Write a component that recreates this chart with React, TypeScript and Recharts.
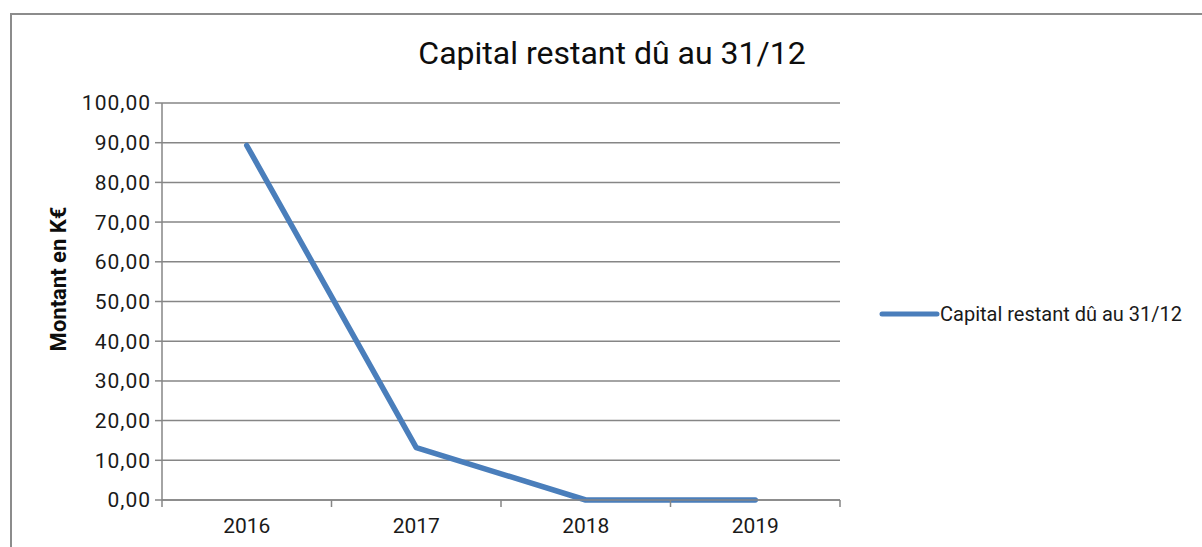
import { LineChart, Line, XAxis, YAxis, CartesianGrid } from "recharts";

const years = ["2016", "2017", "2018", "2019"];
const capital = [89.3, 13.2, 0, 0];
const yTicks = [0, 10, 20, 30, 40, 50, 60, 70, 80, 90, 100];

const seriesName = "Capital restant dû au 31/12";
const data = years.map((year, i) => ({ year, value: capital[i] }));

const FONT = "Roboto, 'Liberation Sans', sans-serif";
const GRID = "#868686";
const BLUE = "#4A7EBB";
const TEXT = "#1a1a1a";

const CHART_W = 1202;
const MARGIN = { top: 103, right: 362, bottom: 0, left: 0 };
const Y_AXIS_W = 162;
// half of a category band, for the Excel-style tick marks between categories
const HALF_BAND = (CHART_W - MARGIN.left - MARGIN.right - Y_AXIS_W) / years.length / 2;

const fmt = (v: number) => v.toFixed(2).replace(".", ",");

const YearTick = (props: any) => {
  const { x, y, payload, index } = props;
  const last = index === years.length - 1;
  return (
    <g>
      <line x1={x - HALF_BAND} y1={y} x2={x - HALF_BAND} y2={y + 7} stroke={GRID} strokeWidth={1.5} />
      {last && <line x1={x + HALF_BAND} y1={y} x2={x + HALF_BAND} y2={y + 7} stroke={GRID} strokeWidth={1.5} />}
      <text x={x} y={y + 18} dy="0.71em" textAnchor="middle" fill={TEXT} fontSize={21} fontFamily={FONT}>
        {payload.value}
      </text>
    </g>
  );
};

export default function App() {
  return (
    <div style={{ position: "relative", width: 1202, height: 547, background: "#fff", overflow: "hidden" }}>
      <style>{`body{margin:0}`}</style>
      <div
        style={{
          position: "absolute",
          left: 10,
          top: 13,
          width: 1300,
          height: 700,
          borderTop: "2px solid #8c8c8c",
          borderLeft: "2px solid #8c8c8c",
          boxSizing: "border-box",
        }}
      />
      <div
        style={{
          position: "absolute",
          left: 0,
          top: 34,
          width: 1224,
          textAlign: "center",
          fontFamily: FONT,
          fontSize: 32,
          fontWeight: 400,
          color: "#0d0d0d",
        }}
      >
        {seriesName}
      </div>
      <div
        style={{
          position: "absolute",
          left: 58,
          top: 279,
          transform: "translate(-50%, -50%) rotate(-90deg)",
          whiteSpace: "nowrap",
          fontFamily: FONT,
          fontSize: 22,
          fontWeight: 700,
          color: "#0d0d0d",
        }}
      >
        Montant en K€
      </div>
      <div
        style={{
          position: "absolute",
          left: 878,
          top: 302,
          display: "flex",
          alignItems: "center",
          fontFamily: FONT,
          fontSize: 20,
          color: TEXT,
          whiteSpace: "nowrap",
        }}
      >
        <svg width={62} height={10}>
          <line x1={4} y1={5} x2={59} y2={5} stroke={BLUE} strokeWidth={5} strokeLinecap="round" />
        </svg>
        <span>{seriesName}</span>
      </div>
      <div style={{ position: "absolute", left: 0, top: 0 }}>
        <LineChart width={CHART_W} height={547} data={data} margin={MARGIN}>
          <CartesianGrid vertical={false} stroke={GRID} strokeWidth={1.5} />
          <XAxis
            dataKey="year"
            scale="band"
            height={47}
            tickLine={false}
            tickSize={0}
            tickMargin={0}
            axisLine={{ stroke: GRID, strokeWidth: 1.5 }}
            tick={<YearTick />}
          />
          <YAxis
            width={Y_AXIS_W}
            domain={[0, 100]}
            ticks={yTicks}
            tickFormatter={fmt}
            interval={0}
            tickSize={7}
            axisLine={{ stroke: GRID, strokeWidth: 1.5 }}
            tickLine={{ stroke: GRID, strokeWidth: 1.5 }}
            tick={{ fill: TEXT, fontSize: 21, fontFamily: FONT, letterSpacing: 1 }}
            tickMargin={4}
          />
          <Line
            type="linear"
            dataKey="value"
            name={seriesName}
            stroke={BLUE}
            strokeWidth={5.5}
            strokeLinecap="round"
            strokeLinejoin="round"
            dot={false}
            activeDot={false}
            isAnimationActive={false}
          />
        </LineChart>
      </div>
    </div>
  );
}
